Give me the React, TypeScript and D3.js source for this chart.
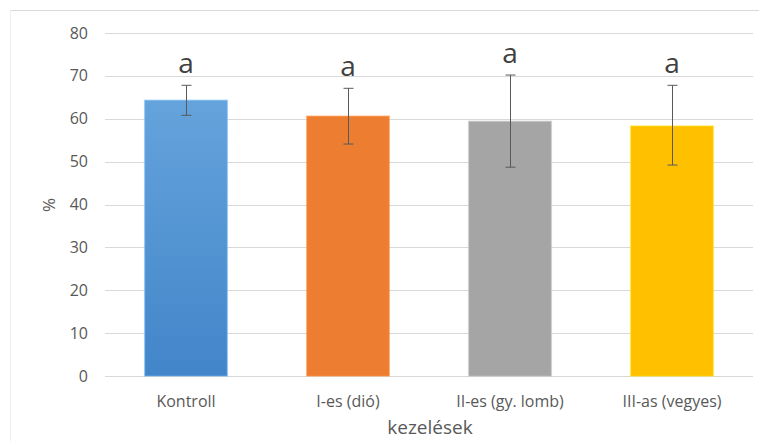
import React, { useEffect, useRef } from 'react';
import * as d3 from 'd3';

const categories = ['Kontroll', 'I-es (dió)', 'II-es (gy. lomb)', 'III-as (vegyes)'];
const values = [64.3, 60.6, 59.4, 58.3];
const errLow = [60.8, 54.1, 48.7, 49.2];
const errHigh = [67.8, 67.1, 70.2, 67.8];
const letters = ['a', 'a', 'a', 'a'];
const yTicks = [0, 10, 20, 30, 40, 50, 60, 70, 80];
const colors = ['#5b9bd5', '#ed7d31', '#a5a5a5', '#ffc000'];

function App() {
    const svgRef = useRef<SVGSVGElement>(null);

    useEffect(() => {
        const w = 759;
        const h = 441;
        const left = 105, right = 753, top = 33, bottom = 376;
        const font = '"Open Sans", sans-serif';

        const svg = d3.select(svgRef.current)
            .attr('width', w)
            .attr('height', h);
        svg.selectAll('*').remove();

        svg.append('rect').attr('width', w).attr('height', h).attr('fill', '#fff');

        // chart area border (top and left edges visible)
        svg.append('line').attr('x1', 10).attr('x2', w).attr('y1', 10.5).attr('y2', 10.5)
            .attr('stroke', '#d9d9d9');
        svg.append('line').attr('x1', 10.5).attr('x2', 10.5).attr('y1', 10).attr('y2', h)
            .attr('stroke', '#eeeeee');

        const x = d3.scaleBand().domain(categories).range([left, right])
            .paddingInner(0.49).paddingOuter(0.245);
        const y = d3.scaleLinear().domain([0, 80]).range([bottom, top]);

        const defs = svg.append('defs');
        const grad = defs.append('linearGradient').attr('id', 'blueGrad')
            .attr('x1', 0).attr('x2', 0).attr('y1', 0).attr('y2', 1);
        grad.append('stop').attr('offset', '0%').attr('stop-color', '#65a3dc');
        grad.append('stop').attr('offset', '100%').attr('stop-color', '#4285c9');

        // grid
        svg.append('g').selectAll('line').data(yTicks).join('line')
            .attr('x1', left).attr('x2', right)
            .attr('y1', d => Math.round(y(d)) + 0.5).attr('y2', d => Math.round(y(d)) + 0.5)
            .attr('stroke', '#d9d9d9');

        svg.append('g').selectAll('text').data(yTicks).join('text')
            .attr('x', 88).attr('y', d => y(d))
            .attr('dy', '0.35em')
            .attr('text-anchor', 'end')
            .style('font-family', font).style('font-size', '16px')
            .attr('fill', '#595959')
            .text(d => d);

        // bars
        svg.append('g').selectAll('rect').data(values).join('rect')
            .attr('x', (d, i) => x(categories[i])!)
            .attr('width', x.bandwidth())
            .attr('y', d => y(d))
            .attr('height', d => y(0) - y(d))
            .attr('fill', (d, i) => i === 0 ? 'url(#blueGrad)' : colors[i])
            .attr('stroke', (d, i) => d3.color(colors[i])!.brighter(0.4).formatHex())
            .attr('stroke-opacity', 0.5)
            .attr('stroke-width', 1.5);

        // error bars
        const eb = svg.append('g').attr('stroke', '#595959').attr('stroke-width', 1);
        categories.forEach((c, i) => {
            const cx = Math.round(x(c)! + x.bandwidth() / 2) + 0.5;
            eb.append('line').attr('x1', cx).attr('x2', cx).attr('y1', y(errHigh[i])).attr('y2', y(errLow[i]));
            eb.append('line').attr('x1', cx - 5).attr('x2', cx + 5).attr('y1', y(errHigh[i])).attr('y2', y(errHigh[i]));
            eb.append('line').attr('x1', cx - 5).attr('x2', cx + 5).attr('y1', y(errLow[i])).attr('y2', y(errLow[i]));
        });

        // letters
        svg.append('g').selectAll('text').data(letters).join('text')
            .attr('x', (d, i) => x(categories[i])! + x.bandwidth() / 2)
            .attr('y', (d, i) => y(errHigh[i]) - 12)
            .attr('text-anchor', 'middle')
            .style('font-family', font).style('font-size', '28px')
            .attr('fill', '#404040')
            .text(d => d);

        // x labels
        svg.append('g').selectAll('text').data(categories).join('text')
            .attr('x', d => x(d)! + x.bandwidth() / 2)
            .attr('y', 407)
            .attr('text-anchor', 'middle')
            .style('font-family', font).style('font-size', '16px')
            .attr('fill', '#595959')
            .text(d => d);

        svg.append('text')
            .attr('x', 430).attr('y', 434)
            .attr('text-anchor', 'middle')
            .style('font-family', font).style('font-size', '19px')
            .attr('fill', '#595959')
            .text('kezelések');

        svg.append('text')
            .attr('transform', 'translate(55,205) rotate(-90)')
            .attr('text-anchor', 'middle')
            .style('font-family', font).style('font-size', '17px')
            .attr('fill', '#595959')
            .text('%');
    }, []);

    return (
        <svg ref={svgRef} style={{ position: 'absolute', left: 0, top: 0 }}></svg>
    );
}

export default App;
